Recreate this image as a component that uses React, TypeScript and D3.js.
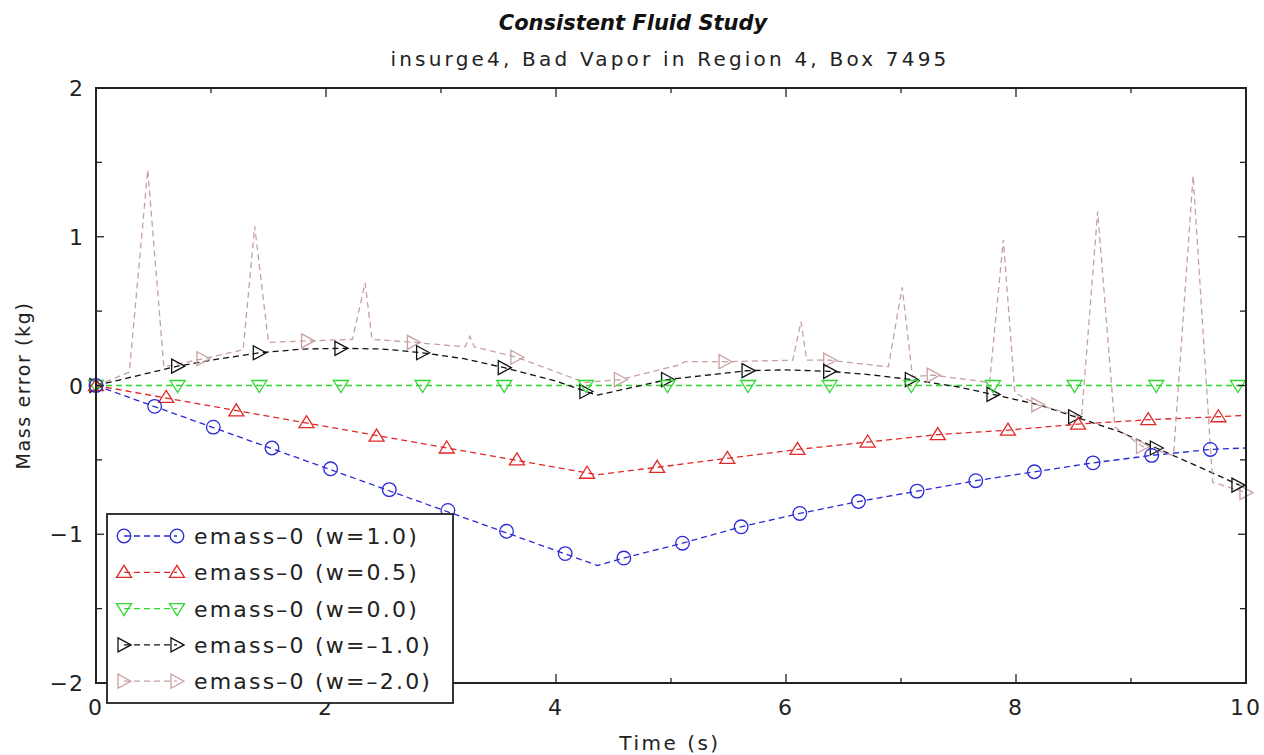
import React from "react";
import * as d3 from "d3";

type P = [number, number];

const title = "Consistent Fluid Study";
const subtitle = "insurge4, Bad Vapor in Region 4, Box 7495";
const xLabel = "Time (s)";
const yLabel = "Mass error (kg)";

const xMajorTicks = [0, 2, 4, 6, 8, 10];
const xMinorTicks = [1, 3, 5, 7, 9];
const yMajorTicks = [-2, -1, 0, 1, 2];
const yMinorTicks = [-1.5, -0.5, 0.5, 1.5];

const blueLine: P[] = [[0, 0], [4.36, -1.21], [4.59, -1.16], [5.1, -1.06], [5.61, -0.95], [6.12, -0.86], [6.63, -0.78], [7.14, -0.71], [7.65, -0.64], [8.16, -0.58], [8.67, -0.52], [9.18, -0.47], [9.69, -0.43], [10, -0.42]];
const blueMarkers: P[] = [[0, 0], [0.51, -0.14], [1.02, -0.28], [1.53, -0.42], [2.04, -0.56], [2.55, -0.7], [3.06, -0.84], [3.57, -0.98], [4.08, -1.13], [4.59, -1.16], [5.1, -1.06], [5.61, -0.95], [6.12, -0.86], [6.63, -0.78], [7.14, -0.71], [7.65, -0.64], [8.16, -0.58], [8.67, -0.52], [9.18, -0.47], [9.69, -0.43]];

const redLine: P[] = [[0, 0], [4.36, -0.6], [4.88, -0.55], [5.49, -0.49], [6.1, -0.43], [6.71, -0.38], [7.32, -0.33], [7.93, -0.3], [8.54, -0.26], [9.15, -0.23], [9.76, -0.21], [10, -0.2]];
const redMarkers: P[] = [[0, 0], [0.61, -0.08], [1.22, -0.17], [1.83, -0.25], [2.44, -0.34], [3.05, -0.42], [3.66, -0.5], [4.27, -0.59], [4.88, -0.55], [5.49, -0.49], [6.1, -0.43], [6.71, -0.38], [7.32, -0.33], [7.93, -0.3], [8.54, -0.26], [9.15, -0.23], [9.76, -0.21]];

const greenLine: P[] = [[0, 0], [10, 0]];
const greenMarkers: P[] = [[0, 0], [0.71, 0], [1.42, 0], [2.13, 0], [2.84, 0], [3.55, 0], [4.26, 0], [4.97, 0], [5.67, 0], [6.38, 0], [7.09, 0], [7.8, 0], [8.51, 0], [9.22, 0], [9.93, 0]];

const blackLine: P[] = [[0, 0], [0.71, 0.13], [1.0, 0.17], [1.42, 0.22], [1.8, 0.245], [2.13, 0.25], [2.5, 0.245], [2.84, 0.22], [3.2, 0.18], [3.55, 0.12], [4.0, 0.03], [4.26, -0.04], [4.36, -0.065], [4.97, 0.04], [5.67, 0.1], [6.0, 0.105], [6.38, 0.095], [6.7, 0.075], [7.09, 0.04], [7.5, -0.01], [7.8, -0.06], [8.2, -0.13], [8.51, -0.21], [8.9, -0.31], [9.22, -0.42], [9.6, -0.55], [10, -0.69]];
const blackMarkers: P[] = [[0, 0], [0.71, 0.13], [1.42, 0.22], [2.13, 0.25], [2.84, 0.22], [3.55, 0.12], [4.26, -0.04], [4.97, 0.04], [5.67, 0.1], [6.38, 0.095], [7.09, 0.04], [7.8, -0.06], [8.51, -0.21], [9.22, -0.42], [9.93, -0.67]];

const pinkLine: P[] = [[0, 0], [0.29, 0.09], [0.45, 1.45], [0.59, 0.125], [0.93, 0.18], [1.28, 0.24], [1.38, 1.07], [1.5, 0.29], [1.84, 0.3], [2.23, 0.31], [2.34, 0.69], [2.4, 0.31], [2.76, 0.29], [3.21, 0.26], [3.25, 0.33], [3.29, 0.26], [3.66, 0.19], [4.25, 0.02], [4.56, 0.04], [5.08, 0.14], [5.12, 0.16], [5.47, 0.16], [6.06, 0.17], [6.13, 0.43], [6.18, 0.17], [6.38, 0.17], [6.89, 0.125], [7.01, 0.66], [7.1, 0.06], [7.28, 0.07], [7.77, 0.02], [7.89, 0.98], [7.99, -0.05], [8.19, -0.13], [8.57, -0.21], [8.71, 1.17], [8.86, -0.28], [9.1, -0.41], [9.37, -0.47], [9.54, 1.41], [9.71, -0.65], [10, -0.72]];
const pinkMarkers: P[] = [[0, 0], [0.93, 0.18], [1.84, 0.3], [2.76, 0.29], [3.66, 0.19], [4.56, 0.04], [5.47, 0.16], [6.38, 0.17], [7.28, 0.07], [8.19, -0.13], [9.1, -0.41], [10, -0.72]];

const seriesNames = ["emass-0 (w=1.0)", "emass-0 (w=0.5)", "emass-0 (w=0.0)", "emass-0 (w=-1.0)", "emass-0 (w=-2.0)"];
const seriesColors = ["#2a2ad6", "#e02828", "#2ed82e", "#111111", "#c8a0a0"];
const seriesShapes = ["circle", "up", "down", "right", "right"];
const seriesLines = [blueLine, redLine, greenLine, blackLine, pinkLine];
const seriesMarkers = [blueMarkers, redMarkers, greenMarkers, blackMarkers, pinkMarkers];

const W = 1264, H = 755;
const left = 96, right = 1246, top = 88, bottom = 683;
const FONT = "'DejaVu Sans', Verdana, sans-serif";

function Marker({ shape, x, y, color }: { shape: string; x: number; y: number; color: string }) {
  const sw = 1.3;
  if (shape === "circle") return <circle cx={x} cy={y} r={6.8} fill="none" stroke={color} strokeWidth={sw} />;
  let pts: P[] = [];
  if (shape === "up") pts = [[0, -7], [7.5, 5], [-7.5, 5]];
  if (shape === "down") pts = [[0, 7], [7.5, -5], [-7.5, -5]];
  if (shape === "right") pts = [[7, 0], [-6, -7], [-6, 7]];
  return <polygon points={pts.map(([a, b]) => `${x + a},${y + b}`).join(" ")} fill="none" stroke={color} strokeWidth={sw} />;
}

export default function App() {
  const x = d3.scaleLinear().domain([0, 10]).range([left, right]);
  const y = d3.scaleLinear().domain([-2, 2]).range([bottom, top]);
  const line = d3.line<P>().x((d) => x(d[0])).y((d) => y(d[1]));

  const legX = 107, legY = 514, legW = 346, legH = 189;
  const rowY = (i: number) => 536 + i * 36.3;

  return (
    <svg width={W} height={H} style={{ position: "absolute", left: 0, top: 0, background: "#fff" }} fontFamily={FONT}>
      <rect x={0} y={0} width={W} height={H} fill="#fff" />
      <text x={633} y={30} textAnchor="middle" fontSize={21} fontWeight="bold" fontStyle="italic" fill="#111">{title}</text>
      <text x={670} y={66} textAnchor="middle" fontSize={20} fill="#222" letterSpacing={3.2}>{subtitle}</text>

      <defs>
        <clipPath id="plotclip"><rect x={left} y={top} width={right - left} height={bottom - top} /></clipPath>
      </defs>

      <g clipPath="url(#plotclip)">
        {seriesLines.map((ln, i) => (
          <path key={"l" + i} d={line(ln) || ""} fill="none" stroke={seriesColors[i]} strokeWidth={1.3} strokeDasharray="6,4" />
        ))}
      </g>
      {[4, 3, 2, 1, 0].map((i) =>
        seriesMarkers[i].map((m, j) => (
          <Marker key={`m${i}-${j}`} shape={seriesShapes[i]} x={x(m[0])} y={y(m[1])} color={seriesColors[i]} />
        ))
      )}

      <rect x={left} y={top} width={right - left} height={bottom - top} fill="none" stroke="#222" strokeWidth={2} />
      {xMajorTicks.map((t) => (
        <g key={"xM" + t}>
          <line x1={x(t)} x2={x(t)} y1={bottom} y2={bottom - 9} stroke="#222" strokeWidth={1.3} />
          <line x1={x(t)} x2={x(t)} y1={top} y2={top + 9} stroke="#222" strokeWidth={1.3} />
          <text x={x(t)} y={715} textAnchor="middle" fontSize={22} fill="#222" letterSpacing={2}>{t}</text>
        </g>
      ))}
      {xMinorTicks.map((t) => (
        <g key={"xm" + t}>
          <line x1={x(t)} x2={x(t)} y1={bottom} y2={bottom - 5} stroke="#222" strokeWidth={1.3} />
          <line x1={x(t)} x2={x(t)} y1={top} y2={top + 5} stroke="#222" strokeWidth={1.3} />
        </g>
      ))}
      {yMajorTicks.map((t) => (
        <g key={"yM" + t}>
          <line x1={left} x2={left + 8} y1={y(t)} y2={y(t)} stroke="#222" strokeWidth={1.3} />
          <line x1={right} x2={right - 8} y1={y(t)} y2={y(t)} stroke="#222" strokeWidth={1.3} />
          <text x={84} y={y(t) + 8} textAnchor="end" fontSize={22} fill="#222" letterSpacing={1}>{t < 0 ? "\u2212" + Math.abs(t) : t}</text>
        </g>
      ))}
      {yMinorTicks.map((t) => (
        <g key={"ym" + t}>
          <line x1={left} x2={left + 6} y1={y(t)} y2={y(t)} stroke="#222" strokeWidth={1.3} />
          <line x1={right} x2={right - 6} y1={y(t)} y2={y(t)} stroke="#222" strokeWidth={1.3} />
        </g>
      ))}

      <text x={670} y={750} textAnchor="middle" fontSize={20} fill="#222" letterSpacing={2.5}>{xLabel}</text>
      <text transform={`translate(30,${(top + bottom) / 2}) rotate(-90)`} textAnchor="middle" fontSize={19} fill="#222" letterSpacing={1.6}>{yLabel}</text>

      <rect x={legX} y={legY} width={legW} height={legH} fill="#fff" stroke="#222" strokeWidth={1.8} />
      {seriesNames.map((name, i) => (
        <g key={"lg" + i}>
          <line x1={124} x2={177} y1={rowY(i)} y2={rowY(i)} stroke={seriesColors[i]} strokeWidth={1.3} strokeDasharray="6,4" />
          <Marker shape={seriesShapes[i]} x={124} y={rowY(i)} color={seriesColors[i]} />
          <Marker shape={seriesShapes[i]} x={177} y={rowY(i)} color={seriesColors[i]} />
          <text x={194} y={rowY(i) + 8} fontSize={22} fill="#222" letterSpacing={2.2}>{name.replace(/-/g, "\u2013")}</text>
        </g>
      ))}
    </svg>
  );
}
